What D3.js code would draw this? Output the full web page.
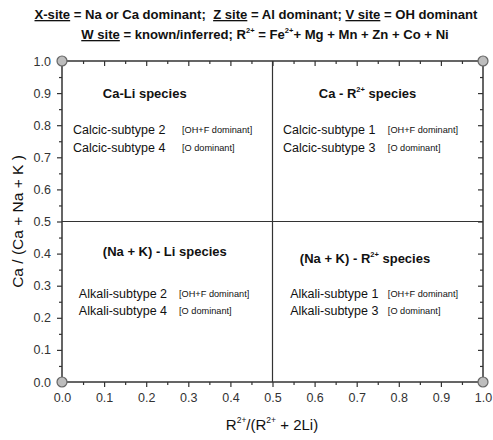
<!DOCTYPE html>
<html><head><meta charset="utf-8">
<script src="https://cdn.jsdelivr.net/npm/d3@7"></script>
<style>body{margin:0;background:#fff}svg{display:block;font-family:"Liberation Sans",Arial,sans-serif}</style>
</head><body>
<script>
const xMajor = [0,0.1,0.2,0.3,0.4,0.5,0.6,0.7,0.8,0.9,1.0];
const yMajor = [0,0.1,0.2,0.3,0.4,0.5,0.6,0.7,0.8,0.9,1.0];
const minorTicks = [0.05,0.15,0.25,0.35,0.45,0.55,0.65,0.75,0.85,0.95];
const cornerX = [0,1,0,1];
const cornerY = [0,0,1,1];
const dividerX = 0.5, dividerY = 0.5;
// species headings: [x, y, main, sup, rest]
const headings = [
  [0.097,0.885,"Ca-Li species","",""],
  [0.610,0.885,"Ca - R","2+"," species"],
  [0.097,0.393,"(Na + K) - Li species","",""],
  [0.565,0.371,"(Na + K) - R","2+"," species"]
];
const subtypes = [
  [0.026,0.773,0.285,"Calcic-subtype 2","[OH+F dominant]"],
  [0.026,0.717,0.285,"Calcic-subtype 4","[O dominant]"],
  [0.525,0.773,0.774,"Calcic-subtype 1","[OH+F dominant]"],
  [0.525,0.717,0.774,"Calcic-subtype 3","[O dominant]"],
  [0.040,0.262,0.278,"Alkali-subtype 2","[OH+F dominant]"],
  [0.040,0.209,0.278,"Alkali-subtype 4","[O dominant]"],
  [0.542,0.262,0.774,"Alkali-subtype 1","[OH+F dominant]"],
  [0.542,0.209,0.774,"Alkali-subtype 3","[O dominant]"]
];

const W=493,H=440, L=62,R=483,T=61,B=382;
const svg=d3.select("body").append("svg").attr("width",W).attr("height",H);
const x=d3.scaleLinear().domain([0,1]).range([L,R]);
const y=d3.scaleLinear().domain([0,1]).range([B,T]);
const col="#333";

// title
const t1=svg.append("text").attr("x",256).attr("y",19).attr("text-anchor","middle")
  .attr("font-weight","bold").attr("font-size",13.1).attr("fill","#111").style("white-space","pre");
t1.append("tspan").attr("text-decoration","underline").text("X-site");
t1.append("tspan").text(" = Na or Ca dominant;\u00a0\u00a0");
t1.append("tspan").attr("text-decoration","underline").text("Z site");
t1.append("tspan").text(" = Al dominant; ");
t1.append("tspan").attr("text-decoration","underline").text("V site");
t1.append("tspan").text(" = OH dominant");
const t2=svg.append("text").attr("x",265).attr("y",39).attr("text-anchor","middle")
  .attr("font-weight","bold").attr("font-size",13.1).attr("fill","#111");
t2.append("tspan").attr("text-decoration","underline").text("W site");
t2.append("tspan").text(" = known/inferred; R");
t2.append("tspan").attr("font-size",7.5).attr("dy",-6).text("2+");
t2.append("tspan").attr("dy",6).text(" = Fe");
t2.append("tspan").attr("font-size",7.5).attr("dy",-6).text("2+");
t2.append("tspan").attr("dy",6).text("+ Mg + Mn + Zn + Co + Ni");

// axes
const gx=svg.append("g").attr("transform",`translate(0,${B})`)
  .call(d3.axisBottom(x).tickValues(xMajor).tickFormat(d3.format(".1f")).tickSize(5).tickPadding(6));
const gxm=svg.append("g").attr("transform",`translate(0,${B})`)
  .call(d3.axisBottom(x).tickValues(minorTicks).tickFormat("").tickSize(3));
const gy=svg.append("g").attr("transform",`translate(${L},0)`)
  .call(d3.axisLeft(y).tickValues(yMajor).tickFormat(d3.format(".1f")).tickSize(5).tickPadding(6));
const gym=svg.append("g").attr("transform",`translate(${L},0)`)
  .call(d3.axisLeft(y).tickValues(minorTicks).tickFormat("").tickSize(3));
const gt=svg.append("g").attr("transform",`translate(0,${T})`)
  .call(d3.axisBottom(x).tickValues(xMajor).tickFormat("").tickSize(5));
const gtm=svg.append("g").attr("transform",`translate(0,${T})`)
  .call(d3.axisBottom(x).tickValues(minorTicks).tickFormat("").tickSize(3));
const gr=svg.append("g").attr("transform",`translate(${R},0)`)
  .call(d3.axisLeft(y).tickValues(yMajor).tickFormat("").tickSize(5));
const grm=svg.append("g").attr("transform",`translate(${R},0)`)
  .call(d3.axisLeft(y).tickValues(minorTicks).tickFormat("").tickSize(3));
[gx,gxm,gy,gym,gt,gtm,gr,grm].forEach(g=>{
  g.select(".domain").remove();
  g.selectAll(".tick line").attr("stroke",col).attr("stroke-width",1.2);
  g.selectAll("text").attr("font-size",12.5).attr("fill","#333")
    .attr("font-family","Liberation Sans, Arial, sans-serif");
});

// frame
svg.append("rect").attr("x",x(0)).attr("y",y(1)).attr("width",x(1)-x(0)).attr("height",y(0)-y(1))
  .attr("fill","none").attr("stroke",col).attr("stroke-width",1.5);
svg.append("line").attr("x1",x(dividerX)).attr("x2",x(dividerX)).attr("y1",y(0)).attr("y2",y(1))
  .attr("stroke",col).attr("stroke-width",1.2);
svg.append("line").attr("x1",x(0)).attr("x2",x(1)).attr("y1",y(dividerY)).attr("y2",y(dividerY))
  .attr("stroke",col).attr("stroke-width",1.2);

// corner points
svg.selectAll("circle.c").data(cornerX.map((d,i)=>[d,cornerY[i]])).enter().append("circle")
  .attr("cx",d=>x(d[0])).attr("cy",d=>y(d[1])).attr("r",5)
  .attr("fill","#bdbdbd").attr("stroke","#666").attr("stroke-width",1.2);

// headings
headings.forEach(h=>{
  const t=svg.append("text").attr("x",x(h[0])).attr("y",y(h[1]))
    .attr("font-weight","bold").attr("font-size",13).attr("fill","#111");
  t.append("tspan").text(h[2]);
  if(h[3]){
    t.append("tspan").attr("font-size",7.5).attr("dy",-6).text(h[3]);
    t.append("tspan").attr("dy",6).text(h[4]);
  }
});
// subtypes
subtypes.forEach(s=>{
  svg.append("text").attr("x",x(s[0])).attr("y",y(s[1])).attr("font-size",12.5).attr("fill","#111").text(s[3]);
  svg.append("text").attr("x",x(s[2])).attr("y",y(s[1])-1).attr("font-size",9.2).attr("fill","#111").text(s[4]);
});

// axis titles
const xt=svg.append("text").attr("x",272).attr("y",430).attr("text-anchor","middle")
  .attr("font-size",15).attr("fill","#111");
xt.append("tspan").text("R");
xt.append("tspan").attr("font-size",8.5).attr("dy",-7).text("2+");
xt.append("tspan").attr("dy",7).text("/(R");
xt.append("tspan").attr("font-size",8.5).attr("dy",-7).text("2+");
xt.append("tspan").attr("dy",7).text(" + 2Li)");
svg.append("text").attr("transform",`translate(23,${y(0.5)}) rotate(-90)`).attr("text-anchor","middle")
  .attr("font-size",15.5).attr("fill","#111").text("Ca / (Ca + Na + K )");
</script>
</body></html>
